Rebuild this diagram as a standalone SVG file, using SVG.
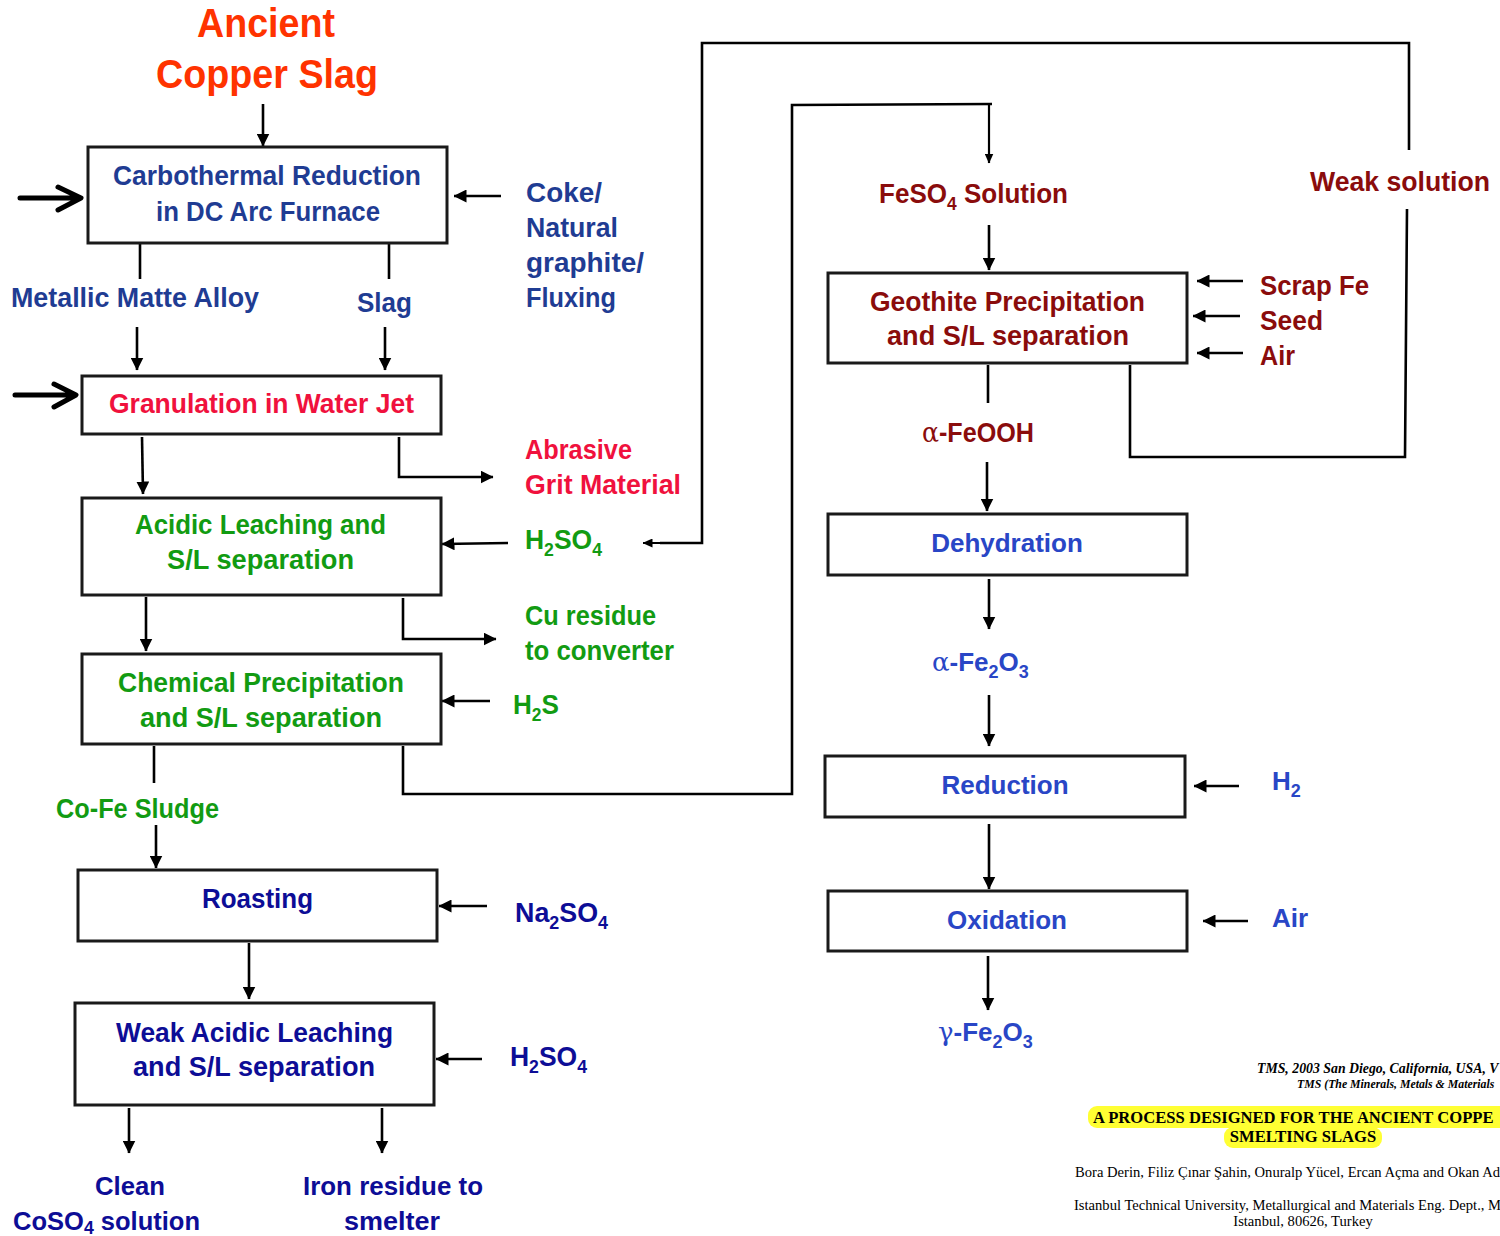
<svg xmlns="http://www.w3.org/2000/svg" width="1500" height="1236" viewBox="0 0 1500 1236">
<style>
.box{fill:#fff;stroke:#1a1a1a;stroke-width:3}
.c{fill:none;stroke:#000;stroke-width:2.6}
.ca{fill:none;stroke:#000;stroke-width:2.6;marker-end:url(#ah)}
.cs{fill:none;stroke:#000;stroke-width:2.2;marker-end:url(#ahs)}
.big{fill:none;stroke:#000;stroke-width:5;stroke-linecap:round;stroke-linejoin:round}
.t{font-family:"Liberation Sans",Arial,sans-serif;font-weight:bold;font-size:27px}
.r{font-family:"Liberation Sans",Arial,sans-serif;font-weight:bold;font-size:26px;fill:#2946C6}
.sub{font-size:18px}
.blue{fill:#1F3C93}
.red{fill:#F0113D}
.green{fill:#129B12}
.dred{fill:#8A0C0C}
.navy{fill:#0D0D96}
.gr{font-family:"DejaVu Serif","Liberation Serif",serif;font-weight:normal}
.cit{font-family:"Liberation Serif","Times New Roman",serif;fill:#000}
</style>
<defs>
<marker id="ah" viewBox="0 0 13 13" refX="12.5" refY="6.5" markerWidth="13" markerHeight="13" markerUnits="userSpaceOnUse" orient="auto"><path d="M0,0L13,6.5L0,13z" fill="#000"/></marker>
<marker id="ahs" viewBox="0 0 10 9" refX="9.5" refY="4.5" markerWidth="10" markerHeight="9" markerUnits="userSpaceOnUse" orient="auto"><path d="M0,0L10,4.5L0,9z" fill="#000"/></marker>
</defs>
<rect width="1500" height="1236" fill="#fff"/>

<g id="connectors">
<path class="ca" d="M263,104V146"/>
<path class="big" d="M20,198H80M58,187L81,198L58,210"/>
<path class="ca" d="M501,196H454"/>
<path class="c" d="M140,243V279M389,243V279"/>
<path class="ca" d="M137,327V370"/>
<path class="ca" d="M385,327V370"/>
<path class="big" d="M15,395H75M54,384L76,395L54,407"/>
<path class="ca" d="M142,437L143,494"/>
<path class="ca" d="M399,437V477H493"/>
<path class="ca" d="M508,543L442,544"/>
<path class="c" d="M1409,150V43H702V543H660"/>
<path class="cs" d="M680,543H643"/>
<path class="ca" d="M146,597V651"/>
<path class="ca" d="M403,598V639H496"/>
<path class="ca" d="M490,701H442"/>
<path class="c" d="M154,746V783"/>
<path class="c" d="M403,746V794H792V105L992,104"/>
<path class="cs" d="M989,104V163"/>
<path class="ca" d="M156,825V868"/>
<path class="ca" d="M487,906H439"/>
<path class="ca" d="M249,943V999"/>
<path class="ca" d="M482,1059H436"/>
<path class="ca" d="M129,1108V1153"/>
<path class="ca" d="M382,1108V1153"/>
<path class="ca" d="M989,225V270"/>
<path class="ca" d="M1243,281H1197"/>
<path class="ca" d="M1240,316H1193"/>
<path class="ca" d="M1243,353H1197"/>
<path class="c" d="M988,365V403"/>
<path class="c" d="M1130,365V457H1405L1407,209"/>
<path class="ca" d="M987,462V511"/>
<path class="ca" d="M989,579V629"/>
<path class="ca" d="M989,695V746"/>
<path class="ca" d="M1239,786H1194"/>
<path class="ca" d="M989,824V889"/>
<path class="ca" d="M1248,921H1203"/>
<path class="ca" d="M988,956V1010"/>
</g>

<g id="title">
<text class="t" x="197" y="37" style="font-size:40px;fill:#FF3300" textLength="138" lengthAdjust="spacingAndGlyphs">Ancient</text>
<text class="t" x="156" y="88" style="font-size:40px;fill:#FF3300" textLength="222" lengthAdjust="spacingAndGlyphs">Copper Slag</text>
</g>

<g id="carbothermal">
<rect class="box" x="88" y="147" width="359" height="96"/>
<text class="t blue" x="113" y="185" textLength="308" lengthAdjust="spacingAndGlyphs">Carbothermal Reduction</text>
<text class="t blue" x="156" y="221" textLength="224" lengthAdjust="spacingAndGlyphs">in DC Arc Furnace</text>
</g>
<g id="coke">
<text class="t blue" x="526" y="202" textLength="76" lengthAdjust="spacingAndGlyphs">Coke/</text>
<text class="t blue" x="526" y="237" textLength="92" lengthAdjust="spacingAndGlyphs">Natural</text>
<text class="t blue" x="526" y="272" textLength="118" lengthAdjust="spacingAndGlyphs">graphite/</text>
<text class="t blue" x="526" y="307" textLength="90" lengthAdjust="spacingAndGlyphs">Fluxing</text>
</g>
<g id="metallic"><text class="t blue" x="11" y="307" textLength="248" lengthAdjust="spacingAndGlyphs">Metallic Matte Alloy</text></g>
<g id="slag"><text class="t blue" x="357" y="312" textLength="55" lengthAdjust="spacingAndGlyphs">Slag</text></g>

<g id="granulation">
<rect class="box" x="82" y="376" width="359" height="58"/>
<text class="t red" x="109" y="413" textLength="305" lengthAdjust="spacingAndGlyphs">Granulation in Water Jet</text>
</g>
<g id="abrasive">
<text class="t red" x="525" y="459" textLength="107" lengthAdjust="spacingAndGlyphs">Abrasive</text>
<text class="t red" x="525" y="494" textLength="156" lengthAdjust="spacingAndGlyphs">Grit Material</text>
</g>

<g id="acidic">
<rect class="box" x="82" y="498" width="359" height="97"/>
<text class="t green" x="135" y="534" textLength="251" lengthAdjust="spacingAndGlyphs">Acidic Leaching and</text>
<text class="t green" x="167" y="569" textLength="187" lengthAdjust="spacingAndGlyphs">S/L separation</text>
</g>
<g id="h2so4-1"><text class="t green" x="525" y="549" textLength="77" lengthAdjust="spacingAndGlyphs">H<tspan class="sub" dy="7">2</tspan><tspan dy="-7">SO</tspan><tspan class="sub" dy="7">4</tspan></text></g>
<g id="cu">
<text class="t green" x="525" y="625" textLength="131" lengthAdjust="spacingAndGlyphs">Cu residue</text>
<text class="t green" x="525" y="660" textLength="149" lengthAdjust="spacingAndGlyphs">to converter</text>
</g>

<g id="chemical">
<rect class="box" x="82" y="654" width="359" height="90"/>
<text class="t green" x="118" y="692" textLength="286" lengthAdjust="spacingAndGlyphs">Chemical Precipitation</text>
<text class="t green" x="140" y="727" textLength="242" lengthAdjust="spacingAndGlyphs">and S/L separation</text>
</g>
<g id="h2s"><text class="t green" x="513" y="714" textLength="46" lengthAdjust="spacingAndGlyphs">H<tspan class="sub" dy="7">2</tspan><tspan dy="-7">S</tspan></text></g>
<g id="cofe"><text class="t green" x="56" y="818" textLength="163" lengthAdjust="spacingAndGlyphs">Co-Fe Sludge</text></g>

<g id="roasting">
<rect class="box" x="78" y="870" width="359" height="71"/>
<text class="t navy" x="202" y="908" textLength="111" lengthAdjust="spacingAndGlyphs">Roasting</text>
</g>
<g id="na2so4"><text class="t navy" x="515" y="922" textLength="93" lengthAdjust="spacingAndGlyphs">Na<tspan class="sub" dy="7">2</tspan><tspan dy="-7">SO</tspan><tspan class="sub" dy="7">4</tspan></text></g>

<g id="weak-leaching">
<rect class="box" x="75" y="1003" width="359" height="102"/>
<text class="t navy" x="116" y="1042" textLength="277" lengthAdjust="spacingAndGlyphs">Weak Acidic Leaching</text>
<text class="t navy" x="133" y="1076" textLength="242" lengthAdjust="spacingAndGlyphs">and S/L separation</text>
</g>
<g id="h2so4-2"><text class="t navy" x="510" y="1066" textLength="77" lengthAdjust="spacingAndGlyphs">H<tspan class="sub" dy="7">2</tspan><tspan dy="-7">SO</tspan><tspan class="sub" dy="7">4</tspan></text></g>
<g id="clean">
<text class="t navy" x="95" y="1195" style="font-size:26px" textLength="70" lengthAdjust="spacingAndGlyphs">Clean</text>
<text class="t navy" x="13" y="1230" style="font-size:26px" textLength="187" lengthAdjust="spacingAndGlyphs">CoSO<tspan class="sub" dy="4">4</tspan><tspan dy="-4"> solution</tspan></text>
</g>
<g id="iron">
<text class="t navy" x="303" y="1195" style="font-size:26px" textLength="180" lengthAdjust="spacingAndGlyphs">Iron residue to</text>
<text class="t navy" x="344" y="1230" style="font-size:26px" textLength="96" lengthAdjust="spacingAndGlyphs">smelter</text>
</g>

<g id="feso4"><text class="t dred" x="879" y="203" textLength="189" lengthAdjust="spacingAndGlyphs">FeSO<tspan class="sub" dy="7">4</tspan><tspan dy="-7"> Solution</tspan></text></g>
<g id="weak-solution"><text class="t dred" x="1310" y="191" textLength="180" lengthAdjust="spacingAndGlyphs">Weak solution</text></g>
<g id="geothite">
<rect class="box" x="828" y="273" width="359" height="90"/>
<text class="t dred" x="870" y="311" textLength="275" lengthAdjust="spacingAndGlyphs">Geothite Precipitation</text>
<text class="t dred" x="887" y="345" textLength="242" lengthAdjust="spacingAndGlyphs">and S/L separation</text>
</g>
<g id="additives">
<text class="t dred" x="1260" y="295" textLength="109" lengthAdjust="spacingAndGlyphs">Scrap Fe</text>
<text class="t dred" x="1260" y="330" textLength="63" lengthAdjust="spacingAndGlyphs">Seed</text>
<text class="t dred" x="1260" y="365" textLength="35" lengthAdjust="spacingAndGlyphs">Air</text>
</g>
<g id="feooh"><text class="t dred" x="922" y="442" textLength="112" lengthAdjust="spacingAndGlyphs"><tspan class="gr">α</tspan>-FeOOH</text></g>

<g id="dehydration">
<rect class="box" x="828" y="514" width="359" height="61"/>
<text class="r" x="1007" y="552" text-anchor="middle">Dehydration</text>
</g>
<g id="afe2o3"><text class="r" x="932" y="671"><tspan class="gr">α</tspan>-Fe<tspan class="sub" dy="7">2</tspan><tspan dy="-7">O</tspan><tspan class="sub" dy="7">3</tspan></text></g>
<g id="reduction">
<rect class="box" x="825" y="756" width="360" height="61"/>
<text class="r" x="1005" y="794" text-anchor="middle">Reduction</text>
</g>
<g id="h2"><text class="r" x="1272" y="790">H<tspan class="sub" dy="7">2</tspan></text></g>
<g id="oxidation">
<rect class="box" x="828" y="891" width="359" height="60"/>
<text class="r" x="1007" y="929" text-anchor="middle">Oxidation</text>
</g>
<g id="air2"><text class="r" x="1272" y="927">Air</text></g>
<g id="gfe2o3"><text class="r" x="938" y="1041"><tspan class="gr">γ</tspan>-Fe<tspan class="sub" dy="7">2</tspan><tspan dy="-7">O</tspan><tspan class="sub" dy="7">3</tspan></text></g>

<g id="citation">
<text class="cit" x="1257" y="1073" font-size="13.8" font-weight="bold" font-style="italic">TMS, 2003 San Diego, California, USA, V</text>
<text class="cit" x="1297" y="1088" font-size="11.8" font-weight="bold" font-style="italic">TMS (The Minerals, Metals &amp; Materials</text>
<rect x="1088" y="1106" width="420" height="22" rx="9" fill="#FFFF33"/>
<rect x="1224" y="1127" width="158" height="21" rx="9" fill="#FFFF33"/>
<text class="cit" x="1093" y="1123" font-size="16.6" font-weight="bold">A PROCESS DESIGNED FOR THE ANCIENT COPPE</text>
<text class="cit" x="1303" y="1142" font-size="16.6" font-weight="bold" text-anchor="middle">SMELTING SLAGS</text>
<text class="cit" x="1075" y="1177" font-size="14.6">Bora Derin, Filiz Çınar Şahin, Onuralp Yücel, Ercan Açma and Okan Ad</text>
<text class="cit" x="1074" y="1210" font-size="14.6">Istanbul Technical University, Metallurgical and Materials Eng. Dept., M</text>
<text class="cit" x="1303" y="1226" font-size="14.6" text-anchor="middle">Istanbul, 80626, Turkey</text>
</g>
</svg>
